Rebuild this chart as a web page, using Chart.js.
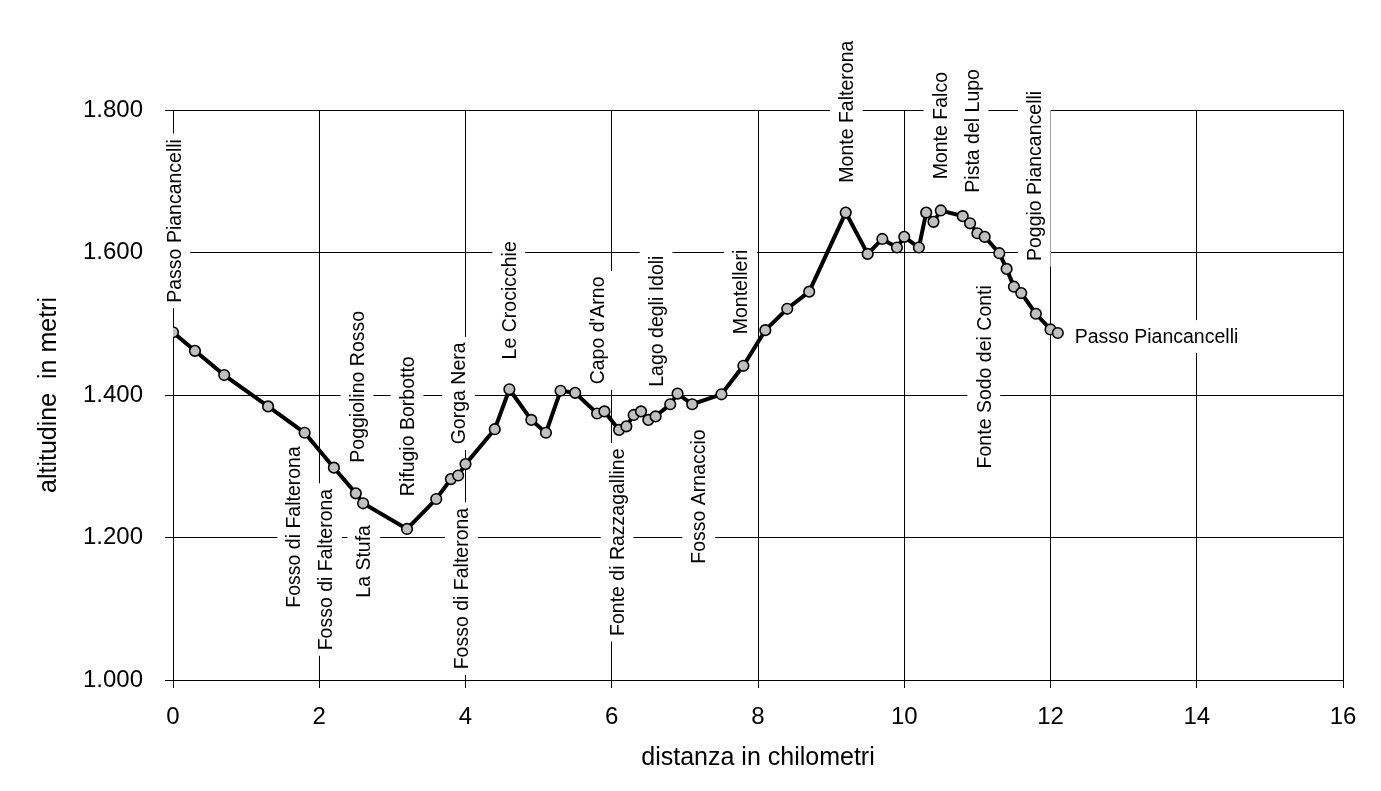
<!DOCTYPE html>
<html>
<head>
<meta charset="utf-8">
<script src="https://cdn.jsdelivr.net/npm/chart.js@4.4.1/dist/chart.umd.min.js"></script>
<style>
html,body{margin:0;padding:0;background:#fff;}
#wrap{width:1381px;height:791px;position:relative;}
</style>
</head>
<body>
<div id="wrap"><canvas id="c" width="1381" height="791"></canvas></div>
<script>
// ---- data ----
const distanceKm = [0, 0.3, 0.7, 1.3, 1.8, 2.2, 2.5, 2.6, 3.2, 3.6, 3.8, 3.9, 4.0, 4.4, 4.6, 4.9, 5.1, 5.3, 5.5, 5.8,
  5.9, 6.1, 6.2, 6.3, 6.4, 6.5, 6.6, 6.8, 6.9, 7.1, 7.5, 7.8, 8.1, 8.4, 8.7, 9.2, 9.5, 9.7, 9.9, 10.0,
  10.2, 10.3, 10.4, 10.5, 10.8, 10.9, 11.0, 11.1, 11.3, 11.4, 11.5, 11.6, 11.8, 12.0, 12.1];
const altitudeM = [1488, 1462, 1428, 1384, 1347, 1298, 1262, 1248, 1212, 1254, 1282, 1287, 1303, 1352, 1408, 1365, 1347, 1406, 1403, 1374,
  1377, 1351, 1356, 1372, 1377, 1365, 1370, 1387, 1402, 1387, 1401, 1441, 1491, 1521, 1545, 1656, 1598, 1619, 1607, 1622,
  1607, 1656, 1643, 1659, 1651, 1641, 1627, 1622, 1599, 1577, 1552, 1543, 1514, 1492, 1487];

const xTickValues = [0, 2, 4, 6, 8, 10, 12, 14, 16];
const yTickValues = [1000, 1200, 1400, 1600, 1800];
const yTickLabels = ['1.000', '1.200', '1.400', '1.600', '1.800'];

// place names (annotation text) and where their text starts, in chart units
const placeNames = ['Passo Piancancelli', 'Fosso di Falterona', 'Fosso di Falterona', 'Poggiolino Rosso', 'La Stufa',
  'Rifugio Borbotto', 'Gorga Nera', 'Fosso di Falterona', 'Le Crocicchie', "Capo d'Arno", 'Fonte di Razzagalline',
  'Lago degli Idoli', 'Fosso Arnaccio', 'Montelleri', 'Monte Falterona', 'Monte Falco', 'Pista del Lupo',
  'Fonte Sodo dei Conti', 'Poggio Piancancelli', 'Passo Piancancelli'];
const placeKm = [0.103, 1.743, 2.177, 2.609, 2.700, 3.293, 3.999, 4.037, 4.684, 5.891, 6.165, 6.698, 7.282, 7.853,
  9.30, 10.58, 11.02, 11.18, 11.87, 12.33];
const placeAlt = [1529.5, 1101.5, 1041.7, 1305, 1115.5, 1258, 1330.8, 1015, 1450, 1415, 1061.8, 1411.6, 1163.2, 1485.2,
  1698, 1702.7, 1684, 1297, 1588, 1472.6];
const placeVertical = [true, true, true, true, true, true, true, true, true, true, true, true, true, true,
  true, true, true, true, true, false];

const FONT = '"Liberation Sans", Arial, sans-serif';

const placeLabels = {
  id: 'placeLabels',
  beforeDatasetsDraw(chart) {
    const ctx = chart.ctx;
    const xs = chart.scales.x, ys = chart.scales.y;
    const fs = 19.5, pad = 5.5;
    ctx.save();
    ctx.font = fs + 'px ' + FONT;
    ctx.textAlign = 'left';
    ctx.textBaseline = 'alphabetic';
    placeNames.forEach((name, i) => {
      const px = xs.getPixelForValue(placeKm[i]);
      const py = ys.getPixelForValue(placeAlt[i]);
      const w = ctx.measureText(name).width;
      ctx.save();
      ctx.translate(px, py);
      if (placeVertical[i]) ctx.rotate(-Math.PI / 2);
      ctx.fillStyle = '#ffffff';
      ctx.fillRect(-pad, -fs * 0.905 - pad, w + 2 * pad, fs * 1.117 + 2 * pad);
      ctx.fillStyle = '#000000';
      ctx.fillText(name, 0, 0);
      ctx.restore();
    });
    ctx.restore();
  }
};

new Chart(document.getElementById('c'), {
  type: 'scatter',
  data: {
    datasets: [{
      data: distanceKm.map((d, i) => ({x: d, y: altitudeM[i]})),
      showLine: true,
      borderColor: '#000000',
      borderWidth: 4,
      tension: 0,
      pointRadius: 5.3,
      pointHoverRadius: 5.3,
      pointBackgroundColor: '#c0c0c0',
      pointBorderColor: '#000000',
      pointBorderWidth: 1.6
    }]
  },
  options: {
    responsive: false,
    animation: false,
    devicePixelRatio: 1,
    layout: {padding: {left: 0, right: 38, top: 110, bottom: 0}},
    plugins: {legend: {display: false}, tooltip: {enabled: false}},
    scales: {
      x: {
        type: 'linear', min: 0, max: 16,
        afterBuildTicks(s) { s.ticks = xTickValues.map(v => ({value: v})); },
        afterFit(s) { s.height = 111; },
        grid: {color: '#000000', lineWidth: 1, tickLength: 8, tickColor: '#000000', drawOnChartArea: true},
        border: {color: '#000000', width: 1},
        ticks: {color: '#000000', font: {family: FONT, size: 24}, padding: 15, maxRotation: 0},
        title: {display: true, text: 'distanza in chilometri', color: '#000000',
          font: {family: FONT, size: 25}, padding: {top: 0, bottom: 18}}
      },
      y: {
        type: 'linear', min: 1000, max: 1800,
        afterBuildTicks(s) { s.ticks = yTickValues.map(v => ({value: v})); },
        afterFit(s) { s.width = 173; },
        grid: {color: '#000000', lineWidth: 1, tickLength: 8, tickColor: '#000000', drawOnChartArea: true},
        border: {color: '#000000', width: 1},
        ticks: {color: '#000000', font: {family: FONT, size: 24}, padding: 22,
          callback: (v) => { const k = yTickValues.indexOf(v); return k >= 0 ? yTickLabels[k] : ''; }},
        title: {display: true, text: 'altitudine  in metri', color: '#000000',
          font: {family: FONT, size: 25}, padding: {top: 34, bottom: 0}}
      }
    }
  },
  plugins: [placeLabels]
});
</script>
</body>
</html>
